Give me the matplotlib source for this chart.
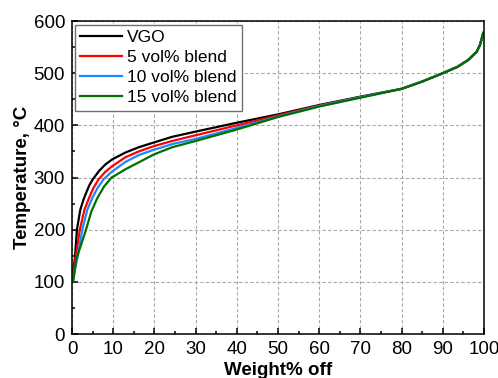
import matplotlib
matplotlib.use('Agg')
import matplotlib.pyplot as plt
from matplotlib.ticker import MultipleLocator

plt.rcParams['font.family'] = ['Liberation Sans', 'DejaVu Sans']

# values (weight% off, temperature degC)
vgo_w = [0.3, 0.7, 1.2, 2, 2.8, 3.5, 4.2, 5.0, 6.5, 8.1, 9.8, 13, 16.2, 19.8, 24.3, 30, 40, 50, 60,
         70, 80, 85, 90, 93.5, 96.1, 98.2, 99, 99.6, 99.8]
vgo_t = [122, 145, 200, 238, 258, 272, 285, 296, 312, 325, 335, 348, 358, 367, 378, 388, 405, 421, 439,
         455, 470, 484, 500, 512, 525, 541, 554, 571, 577]

b5_w = [0.3, 0.8, 1.9, 3, 4.2, 5.2, 6.5, 8.1, 9.8, 13, 16.2, 19.8, 24.3, 30, 40, 50, 60,
        70, 80, 85, 90, 93.5, 96.1, 98.2, 99, 99.6, 99.8]
b5_t = [115, 142, 200, 238, 262, 280, 297, 311, 322, 339, 350, 360, 370, 381, 400, 419, 438,
        454, 470, 484, 500, 512, 525, 541, 554, 571, 577]

b10_w = [0.3, 1.2, 2.5, 3.7, 5, 6.2, 7.7, 9.8, 13, 16.2, 19.8, 24.3, 30, 40, 50, 60,
         70, 80, 85, 90, 93.5, 96.1, 98.2, 99, 99.6, 99.8]
b10_t = [108, 142, 200, 238, 262, 280, 297, 312, 330, 343, 353, 364, 374, 395, 417, 437,
         454, 470, 484, 500, 512, 525, 541, 554, 571, 577]

b15_w = [0.3, 1, 3.4, 4.7, 6.1, 7.8, 9.6, 10.5, 13, 16.2, 19.8, 24.3, 30, 40, 50, 60,
         70, 80, 85, 90, 93.5, 96.1, 98.2, 99, 99.6, 99.8]
b15_t = [100, 142, 200, 235, 260, 283, 300, 304, 316, 329, 344, 358, 370, 392, 416, 436,
         453, 470, 484, 500, 512, 525, 541, 554, 571, 577]

labels = ['VGO', '5 vol% blend', '10 vol% blend', '15 vol% blend']
colors = ['black', '#ff0000', '#1e88ff', '#007000']

fig = plt.figure(figsize=(4.98, 3.78), dpi=100)
ax = fig.add_axes([0.1446, 0.1164, 0.8274, 0.828])

series = [(vgo_w, vgo_t), (b5_w, b5_t), (b10_w, b10_t), (b15_w, b15_t)]
for (w, t), lab, c in zip(series, labels, colors):
    ax.plot(w, t, color=c, lw=1.6, label=lab, solid_joinstyle='round')

ax.set_xlim(0, 100)
ax.set_ylim(0, 600)
ax.xaxis.set_major_locator(MultipleLocator(10))
ax.xaxis.set_minor_locator(MultipleLocator(5))
ax.yaxis.set_major_locator(MultipleLocator(100))
ax.yaxis.set_minor_locator(MultipleLocator(50))
ax.tick_params(which='both', direction='in', labelsize=13.5, pad=5, width=1.1)
ax.tick_params(which='major', length=4)
ax.tick_params(which='minor', length=2.5)

ax.grid(True, color='#a8a8a8', ls=(0, (3, 2)), lw=0.8)
for s in ax.spines.values():
    s.set_linewidth(1.1)

ax.set_xlabel('Weight% off', fontsize=13.5, fontweight='bold', labelpad=3)
ax.set_ylabel('Temperature, °C', fontsize=13.5, fontweight='bold', labelpad=1.5)

leg = ax.legend(loc='upper left', bbox_to_anchor=(0.007, 0.987), borderaxespad=0,
                fontsize=12.5, handlelength=2.4, handletextpad=0.3, labelspacing=0.28,
                borderpad=0.3, fancybox=False, framealpha=1)
leg.get_frame().set_edgecolor('#707070')
leg.get_frame().set_linewidth(1.0)

fig.savefig('out.png', dpi=100)
